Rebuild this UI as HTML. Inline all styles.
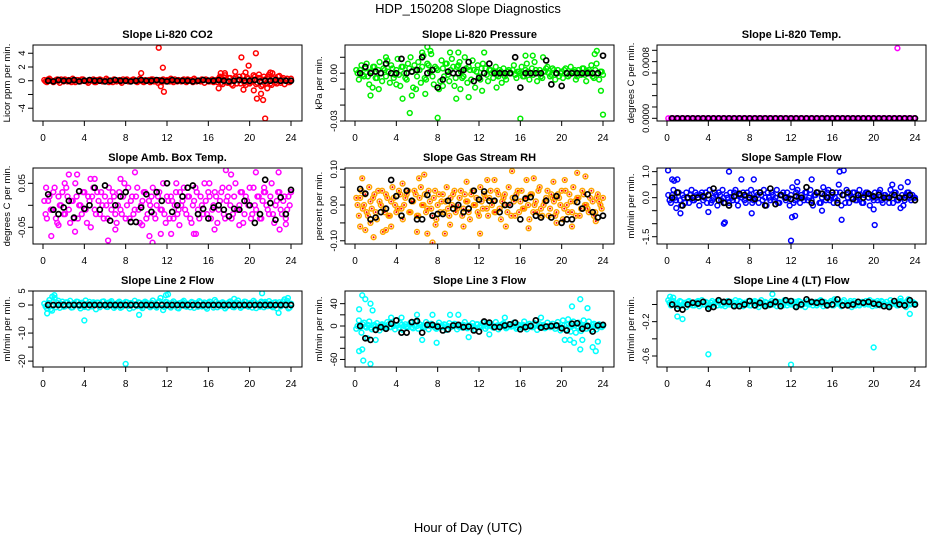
<!DOCTYPE html>
<html><head><meta charset="utf-8">
<style>
html,body{margin:0;padding:0;background:#fff;}
svg{display:block;font-family:"Liberation Sans",sans-serif;}
</style></head>
<body>
<svg id="chart" width="936" height="540" viewBox="0 0 936 540" xmlns="http://www.w3.org/2000/svg">
<rect x="0" y="0" width="936" height="540" fill="#fff"/>
<text x="468" y="13" text-anchor="middle" font-size="13">HDP_150208  Slope Diagnostics</text>
<text x="468" y="532" text-anchor="middle" font-size="13">Hour of Day (UTC)</text>
</svg>
<script>
const xTicks = [0,4,8,12,16,20,24];
const xTickLabels = ["0","4","8","12","16","20","24"];

const titles = ["Slope Li-820 CO2","Slope Li-820 Pressure","Slope Li-820 Temp.","Slope Amb. Box Temp.","Slope Gas Stream RH","Slope Sample Flow","Slope Line 2 Flow","Slope Line 3 Flow","Slope Line 4 (LT) Flow"];
const yTitles = ["Licor ppm per min.","kPa per min.","degrees C per min.","degrees C per min.","percent per min.","ml/min per min.","ml/min per min.","ml/min per min.","ml/min per min."];
const colors = ["#ff0000","#00ee00","#ff00ff","#ff00ff","#ffa500","#0000ff","#00ffff","#00ffff","#00ffff"];
const yDomains = [[-5.86,5.2],[-0.03,0.0177],[-0.000038,0.001035],[-0.088,0.0848],[-0.109,0.1036],[-1.78,1.14],[-22.1,5],[-73.5,62.7],[-0.728,0.157]];
const yTicks = [[-4,-2,0,2,4],[-0.03,-0.02,-0.01,0,0.01],[0,0.00016,0.00032,0.00048,0.00064,0.0008,0.00096],[-0.05,0,0.05],[-0.1,-0.05,0,0.05,0.1],[-1.5,-1,-0.5,0,0.5,1],[-20,-15,-10,-5,0,5],[-60,-40,-20,0,20,40],[-0.6,-0.4,-0.2,0]];
const yTickLabels = [["-4","","0","2","4"],["-0.03","","","0.00",""],["0.0000","","","","","0.0008",""],["-0.05","","0.05"],["-0.10","","0.00","","0.10"],["-1.5","","","0.0","","1.0"],["-20","","-10","","0","5"],["-60","","","0","","40"],["-0.6","","-0.2",""]];

const co2Base = [0.1,-0.2,0.3,0.0,-0.1,0.2,-0.3,0.1,0.2,-0.1,0.0,0.3,-0.2,0.1,-0.1,0.2,0.0,-0.3,0.1,0.2,-0.2,0.0,0.1,-0.1,0.3,-0.2,0.0,0.2,-0.1,0.1,-0.3,0.0,0.2,-0.1,0.1,0.0,-0.2,0.3,-0.1,0.1,0.0,-0.2,0.2,0.1,-0.3,0.0,0.2,-0.1,0.1,0.3,-0.2,0.0,0.1,-0.1,0.2,-0.2,0.0,0.1,0.3,-0.1,0.0,0.2,-0.3,0.1,-0.1,0.2,0.0,-0.2,0.6,-0.5,0.8,-0.3,0.4,-0.7,0.5,0.2,-0.4,0.7,-0.6,0.3,-0.2,0.8,-0.5,0.4,-0.8,0.6,-0.3,0.9,-0.6,0.5,-0.4,0.7,0.2,-0.5,0.3,-0.2];
const co2Base2 = [-0.1,0.2,0.0,-0.2,0.1,0.0,0.2,-0.1,0.0,0.1,-0.2,0.0,0.1,-0.1,0.2,0.0,-0.1,0.1,0.0,-0.2,0.1,0.2,-0.1,0.0,0.1,0.0,-0.2,0.1,0.0,-0.1,0.2,0.1,-0.1,0.0,0.2,-0.1,0.0,0.1,-0.2,0.0,0.1,0.2,-0.1,0.0,0.1,-0.2,0.0,0.1,-0.1,0.0,0.2,-0.1,0.0,0.1,-0.1,0.2,0.0,-0.2,0.1,0.0,-0.1,0.1,0.2,-0.1,0.0,-0.2,0.1,0.3,-0.3,0.5,-0.2,0.4,-0.5,0.3,-0.4,0.6,0.1,-0.3,0.5,-0.4,0.2,0.6,-0.3,0.4,-0.6,0.2,0.5,-0.4,0.3,-0.2,0.6,-0.3,0.4,0.1,-0.2,0.3];
const co2ExtraX = [9.5,11.2,11.4,11.6,11.7,17,17.2,17.6,18.6,19.2,19.4,19.6,19.9,20.4,20.6,20.7,20.9,21.1,21.3,21.5,21.7,22,22.2];
const co2ExtraY = [1.1,4.8,-0.8,1.9,-1.6,-1.1,1.1,1.1,1.3,3.4,-1.3,1.2,2.2,-1.4,4.0,-2.6,0.9,-1.9,-2.8,-5.5,-1.1,1.2,1.1];
const co2Mean = [0.0,-0.1,0.1,0.0,0.0,0.1,-0.1,0.0,0.1,0.0,0.0,-0.1,0.0,0.1,0.0,0.0,-0.1,0.0,0.1,0.0,0.0,0.1,0.0,-0.1,0.1,0.0,0.0,0.0,-0.1,0.0,0.1,0.0,0.0,0.1,0.0,-0.1,0.0,0.1,0.0,0.0,0.1,-0.1,0.0,0.0,0.1,0.0,0.0,0.0];

const presBase = [0.002,-0.004,0.005,-0.002,0.006,-0.007,0.001,0.004,-0.003,0.007,-0.005,0.002,0.008,-0.006,0.003,-0.001,0.009,-0.008,0.004,-0.003,0.006,0.010,-0.009,0.002,0.007,-0.006,0.011,-0.004,0.005,0.012,-0.007,0.003,-0.010,0.008,-0.002,0.006,-0.005,0.009,-0.008,0.004,0.007,-0.003,0.010,-0.006,0.002,0.008,-0.009,0.005,-0.004,0.006,0.003,-0.005,0.002,-0.003,0.004,-0.002,0.001,0.003,-0.004,0.002,0.000,0.005,-0.003,0.001,0.004,-0.002,0.006,-0.004,0.003,0.007,-0.005,0.002,-0.003,0.001,0.004,-0.002,0.003,-0.004,0.002,0.000,-0.003,0.003,-0.002,0.004,0.001,-0.004,0.002,-0.001,0.003,-0.005,0.002,0.005,-0.003,0.006,-0.004,0.001];
const presBase2 = [0.000,0.002,-0.001,0.003,-0.002,0.001,0.004,-0.003,0.002,0.000,0.003,-0.002,0.001,0.005,-0.003,0.002,-0.001,0.004,0.000,-0.004,0.003,0.001,0.005,-0.002,0.002,0.004,-0.003,0.006,0.001,-0.002,0.004,0.002,-0.005,0.003,0.006,-0.001,0.002,0.004,-0.003,0.005,0.001,-0.002,0.003,0.004,-0.004,0.002,0.001,-0.002,0.003,0.000,-0.001,0.002,0.000,0.001,-0.001,0.002,0.000,-0.002,0.001,0.000,0.002,-0.001,0.001,0.000,-0.002,0.002,0.001,0.000,-0.001,0.002,0.000,-0.002,0.001,0.003,0.000,-0.001,0.002,0.000,-0.002,0.001,0.002,0.000,-0.001,0.001,0.002,-0.002,0.000,0.003,-0.001,0.001,0.000,-0.002,0.002,0.000,0.001,-0.001];
const presExtraX = [5.3,8,16,24,4.6,9.8,11,7,9.2,10,12.5,23.4,23.2,6.8,1.5,2.3,10.2,13.7,14.2,23.8,5.5,5.9,4,16.5,17.2,18.2,3,6.5,7.3,8.5,1.7,12.3];
const presExtraY = [-0.025,-0.028,-0.0285,-0.026,-0.016,-0.016,-0.015,0.0165,0.013,0.013,0.013,0.014,0.012,-0.013,-0.014,-0.01,-0.01,-0.009,-0.006,-0.011,-0.014,-0.01,-0.007,0.011,0.011,0.010,0.010,0.013,0.014,-0.008,-0.009,-0.011];
const presMean = [0.000,0.004,0.000,0.001,0.000,0.006,0.000,0.000,0.009,0.000,0.001,0.002,0.010,0.000,0.002,-0.009,-0.004,0.001,0.000,0.000,0.002,0.007,-0.005,-0.003,0.000,0.006,0.000,0.000,0.000,0.000,0.010,-0.009,0.000,0.000,0.000,0.000,0.008,-0.007,0.000,-0.008,0.000,0.000,0.000,0.000,0.000,0.000,0.000,0.011];

const tempBase = [0,0,0,0,0,0,0,0,0,0,0,0,0,0,0,0,0,0,0,0,0,0,0,0,0,0,0,0,0,0,0,0,0,0,0,0,0,0,0,0,0,0,0,0,0,0,0,0,0,0,0,0,0,0,0,0,0,0,0,0,0,0,0,0,0,0,0,0,0,0,0,0,0,0,0,0,0,0,0,0,0,0,0,0,0,0,0,0,0,0,0,0,0,0,0,0];
const tempBase2 = [];
const tempExtraX = [22.3];
const tempExtraY = [0.00099];
const tempMean = [0,0,0,0,0,0,0,0,0,0,0,0,0,0,0,0,0,0,0,0,0,0,0,0,0,0,0,0,0,0,0,0,0,0,0,0,0,0,0,0,0,0,0,0,0,0,0,0];

const ambBase = [0.01,-0.03,0.02,-0.01,0.04,-0.04,0.00,0.03,-0.02,0.02,-0.04,0.01,0.05,-0.03,0.00,0.03,-0.01,0.02,-0.05,0.04,-0.02,0.01,0.03,-0.03,0.00,0.04,-0.01,0.02,-0.04,0.03,-0.02,0.05,0.00,-0.03,0.02,-0.01,0.04,-0.04,0.01,0.03,-0.02,0.00,0.04,-0.03,0.02,-0.01,0.05,-0.04,0.01,0.02,-0.03,0.03,-0.01,0.00,0.04,-0.02,0.02,-0.04,0.01,0.03,-0.03,0.00,0.05,-0.02,0.02,-0.01,0.03,-0.04,0.01,0.04,-0.03,0.02,0.00,-0.02,0.05,-0.01,0.03,-0.04,0.02,0.00,-0.03,0.04,-0.01,0.02,-0.03,0.03,0.00,-0.02,0.05,-0.04,0.01,0.03,-0.02,0.02,-0.01,0.00];
const ambBase2 = [-0.02,0.01,-0.01,0.03,-0.03,0.02,0.00,-0.02,0.04,-0.01,0.01,-0.03,0.02,0.00,-0.02,0.03,-0.04,0.01,0.02,-0.01,0.03,-0.02,0.00,0.02,-0.03,0.01,0.03,-0.02,0.00,-0.01,0.02,-0.03,0.04,0.01,-0.02,0.02,-0.01,0.00,0.03,-0.03,0.01,0.02,-0.02,0.00,0.03,-0.01,-0.02,0.02,-0.03,0.01,0.00,-0.02,0.03,0.01,-0.01,0.02,-0.03,0.00,0.04,-0.01,0.02,-0.02,0.01,0.03,-0.03,0.00,0.02,-0.01,0.03,-0.02,0.01,0.04,-0.03,0.02,-0.01,0.00,0.03,-0.02,0.01,0.04,-0.02,0.00,0.02,-0.03,0.01,0.03,-0.01,0.02,-0.02,0.00,0.03,-0.01,0.01,-0.03,0.02,0.03];
const ambExtraX = [0.8,2.5,3.3,4.6,5,6.3,7.5,8.9,10.3,10.6,11.4,12.4,14.6,14.8,16.6,17.7,18.2,20.6,22.8,22.9,7,1.5,3.1,19,23.5,13.2,16.1,0.3,2.1,9.6,12.9,21.4];
const ambExtraY = [-0.07,0.07,0.07,0.06,0.06,-0.08,0.06,0.075,-0.07,-0.085,-0.065,-0.065,-0.065,-0.065,-0.055,0.08,0.07,0.075,0.075,-0.055,-0.055,-0.045,-0.06,-0.045,-0.043,-0.045,0.05,0.04,0.05,-0.045,0.05,0.04];
const ambMean = [0.025,-0.01,-0.02,-0.005,0.01,-0.028,0.032,-0.008,0.0,0.04,-0.01,0.045,-0.035,0.0,0.02,0.03,-0.038,-0.038,-0.005,0.025,-0.015,0.03,0.01,0.05,-0.015,0.0,0.02,0.04,0.045,-0.02,-0.008,-0.03,-0.005,0.0,-0.01,-0.025,-0.008,-0.01,0.01,0.0,-0.04,-0.02,0.058,0.005,-0.033,0.018,-0.02,0.035];

const rhBase = [0.02,-0.03,0.04,0.00,-0.02,0.05,-0.01,0.03,-0.04,0.01,0.04,-0.02,0.02,-0.03,0.05,0.00,-0.01,0.03,-0.04,0.02,0.04,-0.02,0.01,0.03,-0.03,0.05,0.00,-0.02,0.04,-0.01,0.02,-0.04,0.03,0.01,-0.02,0.05,-0.03,0.00,0.04,-0.01,0.02,-0.03,0.03,0.01,-0.04,0.04,0.00,-0.02,0.05,-0.01,0.02,-0.03,0.04,0.01,-0.02,0.03,-0.04,0.02,0.00,0.05,-0.03,0.01,0.03,-0.02,0.04,-0.01,0.02,-0.04,0.03,0.00,-0.02,0.05,-0.03,0.01,0.04,-0.01,0.02,-0.03,0.03,0.00,-0.04,0.04,-0.02,0.01,0.05,-0.03,0.02,-0.01,0.03,0.00,-0.02,0.04,-0.03,0.02,0.01,-0.01];
const rhBase2 = [0.00,0.02,-0.01,0.03,-0.03,0.01,0.02,-0.02,0.04,0.00,-0.01,0.03,-0.03,0.01,0.02,-0.02,0.04,-0.01,0.00,0.03,-0.02,0.01,0.04,-0.03,0.02,0.00,0.03,-0.01,0.01,-0.03,0.04,0.00,-0.02,0.03,0.01,-0.01,0.02,0.03,-0.02,0.00,0.04,-0.01,0.01,-0.02,0.03,0.00,0.02,-0.03,0.01,0.03,-0.01,0.02,0.00,-0.02,0.04,-0.01,0.01,0.03,-0.02,0.00,0.02,-0.03,0.04,0.01,-0.01,0.02,0.00,0.03,-0.02,0.01,0.04,-0.01,0.00,0.02,-0.03,0.03,0.01,-0.02,0.02,0.04,-0.01,0.00,0.03,-0.02,0.01,0.02,-0.03,0.04,0.00,-0.01,0.02,0.01,-0.02,0.03,0.00,0.02];
const rhExtraX = [0.7,0.5,1,1.8,2.7,3,3.5,4.6,6.2,6.7,6,7,7.5,7.8,8.7,9.2,10.8,10.5,12.1,12.8,13.5,15.2,16.8,17.3,16.6,19.2,19.5,20.3,21,21.5,22.3,23.3,14.6,1.5];
const rhExtraY = [0.075,-0.06,-0.07,-0.09,-0.075,-0.07,-0.06,0.06,0.075,0.085,-0.075,-0.08,-0.105,-0.055,-0.08,-0.055,0.065,-0.06,-0.08,0.07,0.07,0.095,-0.065,0.075,0.07,0.065,-0.05,0.07,-0.06,0.09,0.08,-0.045,-0.06,-0.05];
const rhMean = [0.045,0.032,-0.04,-0.035,-0.02,-0.01,0.07,0.025,-0.03,0.04,0.012,-0.04,-0.04,0.028,-0.03,-0.025,-0.025,0.012,-0.01,0.0,-0.02,-0.01,0.04,0.015,0.038,0.012,0.012,-0.02,0.0,0.0,0.02,-0.04,0.018,0.022,-0.03,-0.035,0.012,-0.035,0.025,-0.05,-0.04,-0.04,0.008,-0.01,0.03,-0.02,-0.035,-0.03];

const flowBase = [0.1,-0.2,0.3,-0.1,0.2,-0.3,0.0,0.2,-0.2,0.3,-0.1,0.1,-0.3,0.2,0.0,-0.2,0.3,-0.1,0.2,-0.3,0.1,0.3,-0.2,0.0,0.2,-0.1,0.3,-0.3,0.1,0.2,-0.2,0.0,0.3,-0.1,0.2,-0.2,0.1,0.3,-0.3,0.0,0.2,-0.1,0.3,-0.2,0.1,0.0,0.2,-0.3,0.4,-0.1,0.3,-0.2,0.0,0.2,-0.1,0.3,-0.3,0.1,0.2,-0.2,0.4,-0.1,0.3,0.0,-0.2,0.2,0.5,-0.3,0.1,0.3,-0.2,0.0,0.2,-0.1,0.3,-0.2,0.1,0.2,-0.3,0.0,0.2,-0.1,0.3,-0.2,0.1,0.0,0.3,-0.2,0.2,-0.1,0.4,-0.3,0.1,0.2,-0.1,0.0];
const flowBase2 = [-0.1,0.1,0.0,0.2,-0.1,0.1,-0.2,0.0,0.1,-0.1,0.2,0.0,0.1,-0.1,0.2,0.1,-0.2,0.0,0.1,0.2,-0.1,0.0,0.1,-0.2,0.0,0.2,-0.1,0.1,0.0,-0.1,0.2,0.1,-0.2,0.0,0.1,0.2,-0.1,0.0,0.2,-0.1,0.1,0.0,-0.2,0.1,0.2,-0.1,0.0,0.1,-0.2,0.2,0.0,0.1,-0.1,0.2,0.0,-0.1,0.1,0.2,-0.2,0.0,0.1,0.2,-0.1,0.1,0.0,-0.1,0.2,0.1,-0.2,0.0,0.1,0.2,-0.1,0.0,0.1,-0.2,0.2,0.0,0.1,-0.1,0.0,0.2,-0.1,0.1,0.0,-0.2,0.1,0.2,-0.1,0.0,0.1,-0.1,0.2,0.0,0.1,0.0];
const flowExtraX = [0.1,0.5,0.7,1,5.5,5.6,6,7.2,8.4,12,12.1,12.4,16.7,17.1,16.9,20.1,1.3,0.9,4,8.2,14,15,12.6,23.3,22.6,20,21.8];
const flowExtraY = [1.05,0.7,0.65,0.7,-1.0,-0.95,1.0,0.7,0.7,-1.65,-0.75,-0.7,1.0,1.05,-0.85,-1.05,-0.6,-0.4,-0.55,-0.6,0.7,-0.5,0.6,0.6,-0.4,-0.45,0.5];
const flowMean = [0.0,0.2,-0.3,0.0,0.0,0.0,0.05,0.1,0.35,-0.1,-0.2,-0.3,0.05,0.15,0.1,0.0,-0.05,0.2,-0.3,0.35,-0.25,0.1,0.0,-0.05,0.05,0.0,0.4,-0.2,0.2,0.15,0.0,0.2,-0.2,0.1,0.2,-0.05,0.1,0.0,0.15,0.05,0.1,0.0,0.0,0.1,0.0,0.0,0.1,-0.1];

const line2Base = [0.5,-1.2,1.8,-2.0,2.5,0.8,-1.0,1.2,-0.5,0.9,1.5,-0.8,0.3,1.1,-1.2,0.6,1.6,-0.9,0.4,1.0,-1.5,0.8,0.2,1.3,-0.6,0.9,1.4,-1.0,0.5,1.2,-0.7,0.3,1.0,-1.3,0.6,1.5,-0.4,0.8,-1.1,1.2,0.2,-0.8,1.6,-0.5,0.9,2.5,-1.8,1.1,0.4,-0.9,1.3,0.6,-1.2,0.8,1.5,-0.6,0.3,1.1,-1.0,0.7,1.4,-0.5,0.9,-1.3,1.2,0.4,1.8,-0.8,0.6,1.0,-1.2,0.5,1.3,-0.7,0.9,1.6,-1.0,0.4,1.1,-0.6,0.8,1.5,-1.1,0.3,1.2,-0.8,0.7,1.4,-0.5,0.9,-1.2,1.0,0.6,2.0,1.5,-0.9];
const line2Base2 = [-0.5,0.8,-1.5,1.2,-0.8,1.5,0.4,-0.6,1.0,0.2,-0.9,0.7,1.2,-0.4,0.8,-0.7,0.3,1.1,-0.5,0.6,0.9,-0.8,1.2,0.1,-0.7,1.0,0.4,-0.5,0.8,-1.0,0.6,1.1,-0.3,0.7,-0.9,0.2,1.0,-0.6,0.5,0.9,-0.4,0.8,0.1,-0.9,1.4,0.6,-0.7,1.0,-0.5,0.8,0.2,-1.0,0.7,1.1,-0.4,0.5,-0.8,0.9,0.3,-0.6,1.0,0.4,-0.7,0.8,0.1,-0.9,1.1,0.5,-0.4,0.7,-0.6,1.0,0.2,-0.8,0.9,0.4,-0.5,1.2,-0.3,0.6,-0.9,1.0,0.3,-0.6,0.8,1.1,-0.4,0.5,-0.8,1.0,0.2,-0.5,1.3,0.8,-1.2,0.5];
const line2ExtraX = [8,4,9.3,21.2,11.9,0.9,22.8,0.4,23.7,1.1,12.1,18.5];
const line2ExtraY = [-21,-5.5,-3.5,4.2,3.5,3,-2.8,-3,2.5,3.5,3.8,2.2];
const line2Mean = [0,0,0,0,0,0,0,0,0,0,0,0,0,0,0,0,0,0,0,0,0,0,0,0,0,0,0,0,0,0,0,0,0,0,0,0,0,0,0,0,0,0,0,0,0,0,0,0];

const line3Base = [-5,10,-12,6,-3,8,-6,2,5,-8,3,-4,7,-2,4,-6,1,5,-7,3,-2,6,-4,8,-5,2,-3,7,-6,4,0,-5,6,-2,3,-7,5,-1,4,-6,2,-3,7,-4,1,5,-6,3,-2,6,-5,4,0,-3,7,-6,2,5,-4,3,-1,6,-5,2,-3,8,-6,4,-2,5,-7,3,0,-4,6,-2,4,-5,7,-8,10,-6,12,-10,8,-12,6,-9,10,-5,8,-7,4,-6,3,-2];
const line3Base2 = [0,-2,3,-1,2,-3,1,0,-2,2,0,-1,3,-2,0,1,-3,2,0,-1,2,-2,1,0,3,-1,-2,1,0,2,-3,1,0,-1,2,0,-2,1,3,-1,0,2,-2,1,0,-1,3,-2,0,1,-1,2,0,-2,1,0,3,-1,-2,2,0,1,-3,0,2,-1,1,0,-2,3,0,-1,2,-2,0,1,-1,2,0,-3,1,2,-2,0,1,-1,3,-2,0,1,-1,2,0,-1,1,0];
const line3ExtraX = [0.7,1,0.4,1.5,1.7,0.4,0.8,1.5,0.7,21.8,21,22.5,21.8,23,23.3,20.3,20.8,21.2,7.9,9.2,7.5,6,11,13,2,1.2,6.5,3.5,4.5,10,14.5,18,22,23.5];
const line3ExtraY = [55,48,30,40,28,-45,-62,-68,-42,48,35,32,-42,-38,-45,-25,-25,-30,-30,20,20,20,-20,-15,-25,-22,-25,15,15,20,15,15,-25,-28];
const line3Mean = [0,-22,-25,-7,-2,-5,4,10,-12,-12,7,9,-12,2,2,-1,-8,-6,1,2,-2,-1,-8,-10,8,6,-2,-2,1,3,6,-6,-2,0,10,-3,-1,0,1,-4,-8,4,5,-5,0,-10,1,2];

const line4Base = [0.05,-0.01,0.04,0.00,-0.02,0.03,0.01,-0.03,0.04,0.02,-0.01,0.03,-0.02,0.05,0.00,0.02,-0.03,0.04,0.01,-0.01,0.03,0.00,-0.02,0.04,0.02,-0.01,0.05,0.00,0.03,-0.02,0.01,0.04,-0.01,0.02,0.03,-0.03,0.05,0.00,0.02,-0.01,0.04,0.01,-0.02,0.03,0.00,0.05,-0.01,0.02,0.04,-0.02,0.01,0.03,0.00,-0.03,0.04,0.02,-0.01,0.03,0.01,0.05,-0.02,0.02,0.00,0.04,-0.01,0.03,0.01,-0.02,0.05,0.00,0.02,-0.03,0.04,0.01,-0.01,0.03,0.00,0.02,0.05,-0.02,0.01,0.04,-0.01,0.03,0.00,-0.02,0.05,0.01,0.02,-0.01,0.04,0.00,-0.03,0.06,0.01,0.02];
const line4Base2 = [0.02,0.03,0.00,0.01,0.04,-0.01,0.02,0.03,0.00,-0.01,0.02,0.04,0.01,0.00,0.03,-0.01,0.02,0.00,0.03,0.04,-0.01,0.02,0.01,0.00,0.03,0.02,-0.01,0.04,0.01,0.02,0.00,-0.01,0.03,0.04,0.00,0.02,0.01,0.03,-0.01,0.02,0.00,0.04,0.02,0.01,-0.01,0.03,0.02,0.00,0.01,0.03,0.04,-0.01,0.02,0.01,0.00,0.03,0.02,-0.01,0.04,0.01,0.03,0.00,0.02,-0.01,0.04,0.01,0.02,0.03,0.00,0.01,0.04,0.02,-0.01,0.03,0.01,0.02,0.04,0.00,0.01,0.03,-0.01,0.02,0.04,0.01,0.03,0.00,0.02,0.04,-0.01,0.03,0.01,0.02,0.04,0.00,0.03,0.01];
const line4ExtraX = [4,12,20,1,1.5,10.2,0.3,23.5,0.6,16.2,22.6];
const line4ExtraY = [-0.58,-0.7,-0.5,-0.14,-0.17,0.12,0.09,-0.11,0.08,0.06,0.07];
const line4Mean = [0.0,-0.05,-0.06,0.0,0.02,0.01,0.03,-0.05,-0.03,0.05,0.03,0.03,-0.02,-0.02,0.0,0.04,-0.01,0.02,-0.02,0.0,0.03,-0.02,0.05,0.04,-0.03,0.0,0.06,0.03,0.02,0.03,-0.01,0.0,0.06,-0.01,-0.01,0.0,0.03,0.02,0.03,0.01,0.0,-0.02,-0.03,0.04,0.0,-0.01,0.05,0.0];

const baseSeries = [co2Base,presBase,tempBase,ambBase,rhBase,flowBase,line2Base,line3Base,line4Base];
const base2Series = [co2Base2,presBase2,tempBase2,ambBase2,rhBase2,flowBase2,line2Base2,line3Base2,line4Base2];
const extraXSeries = [co2ExtraX,presExtraX,tempExtraX,ambExtraX,rhExtraX,flowExtraX,line2ExtraX,line3ExtraX,line4ExtraX];
const extraYSeries = [co2ExtraY,presExtraY,tempExtraY,ambExtraY,rhExtraY,flowExtraY,line2ExtraY,line3ExtraY,line4ExtraY];
const meanSeries = [co2Mean,presMean,tempMean,ambMean,rhMean,flowMean,line2Mean,line3Mean,line4Mean];

const NS = "http://www.w3.org/2000/svg";
const svg = document.getElementById("chart");
function mk(tag, attrs, parent){
  const e = document.createElementNS(NS, tag);
  for (const k in attrs) e.setAttribute(k, attrs[k]);
  parent.appendChild(e);
  return e;
}
const slug = ["co2","pressure","licor-temp","amb-box-temp","gas-stream-rh","sample-flow","line2-flow","line3-flow","line4-flow"];

for (let p = 0; p < 9; p++) {
  const r = Math.floor(p / 3), c = p % 3;
  const bx = 33 + 312 * c, by = 45 + 123 * r, bw = 269, bh = 76;
  const xPx = h => bx + 10 + h * 248 / 24;
  const dom = yDomains[p];
  const yPx = v => by + bh - (v - dom[0]) / (dom[1] - dom[0]) * bh;
  const g = mk("g", {}, svg);
  
  

  const t = mk("text", {x: bx + bw / 2, y: by - 7, "text-anchor": "middle", "font-size": "11", "font-weight": "bold"}, g);
  
  
  t.textContent = titles[p];

  const clip = mk("clipPath", {id: "clip" + p}, g);
  mk("rect", {x: bx, y: by, width: bw, height: bh}, clip);
  const pts = mk("g", {"clip-path": "url(#clip" + p + ")"}, g);
  
  

  function dot(cx, cy, name) {
    const ci = mk("circle", {cx: cx, cy: cy, r: 2.4, fill: "none", stroke: colors[p], "stroke-width": 1.5}, pts);
    
    
    if (p === 4) {
      const d = mk("circle", {cx: cx, cy: cy, r: 1, fill: "#ff0000"}, pts);
      
      
    }
  }
  const base = baseSeries[p];
  for (let i = 0; i < base.length; i++) dot(xPx((i + 0.5) * 24 / base.length), yPx(base[i]), 'data-point');
  const base2 = base2Series[p];
  for (let i = 0; i < base2.length; i++) dot(xPx((i + 1) * 24 / base2.length), yPx(base2[i]), 'data-point');
  const ex = extraXSeries[p], ey = extraYSeries[p];
  for (let i = 0; i < ex.length; i++) dot(xPx(ex[i]), yPx(ey[i]), 'outlier-point');

  const mean = meanSeries[p];
  for (let i = 0; i < mean.length; i++) {
    const ci = mk("circle", {cx: xPx((i + 1) * 24 / mean.length), cy: yPx(mean[i]), r: 2.5, fill: "none", stroke: "#000", "stroke-width": 1.7}, pts);
    
    
  }

  const box = mk("rect", {x: bx, y: by, width: bw, height: bh, fill: "none", stroke: "#000", "stroke-width": 1}, g);
  
  

  const xa = mk("g", {}, g);
  
  
  mk("line", {x1: xPx(xTicks[0]), x2: xPx(xTicks[xTicks.length - 1]), y1: by + bh, y2: by + bh, stroke: "#000"}, xa);
  xTicks.forEach((h, i) => {
    mk("line", {x1: xPx(h), x2: xPx(h), y1: by + bh, y2: by + bh + 5, stroke: "#000"}, xa);
    const tl = mk("text", {x: xPx(h), y: by + bh + 20, "text-anchor": "middle", "font-size": "10"}, xa);
    
    
    tl.textContent = xTickLabels[i];
  });

  const ya = mk("g", {}, g);
  
  
  const yt = yTicks[p];
  mk("line", {x1: bx, x2: bx, y1: yPx(yt[0]), y2: yPx(yt[yt.length - 1]), stroke: "#000"}, ya);
  yt.forEach((v, i) => {
    const y = yPx(v);
    mk("line", {x1: bx - 5, x2: bx, y1: y, y2: y, stroke: "#000"}, ya);
    if (yTickLabels[p][i]) {
      const tl = mk("text", {x: bx - 8, y: y, "text-anchor": "middle", "font-size": "9.5", transform: "rotate(-90 " + (bx - 8) + " " + y + ")"}, ya);
      
      
      tl.textContent = yTickLabels[p][i];
    }
  });
  const yl = mk("text", {x: bx - 23, y: by + bh / 2, "text-anchor": "middle", "font-size": "9.5", transform: "rotate(-90 " + (bx - 23) + " " + (by + bh / 2) + ")"}, ya);
  
  
  yl.textContent = yTitles[p];
}
</script>
</body></html>
